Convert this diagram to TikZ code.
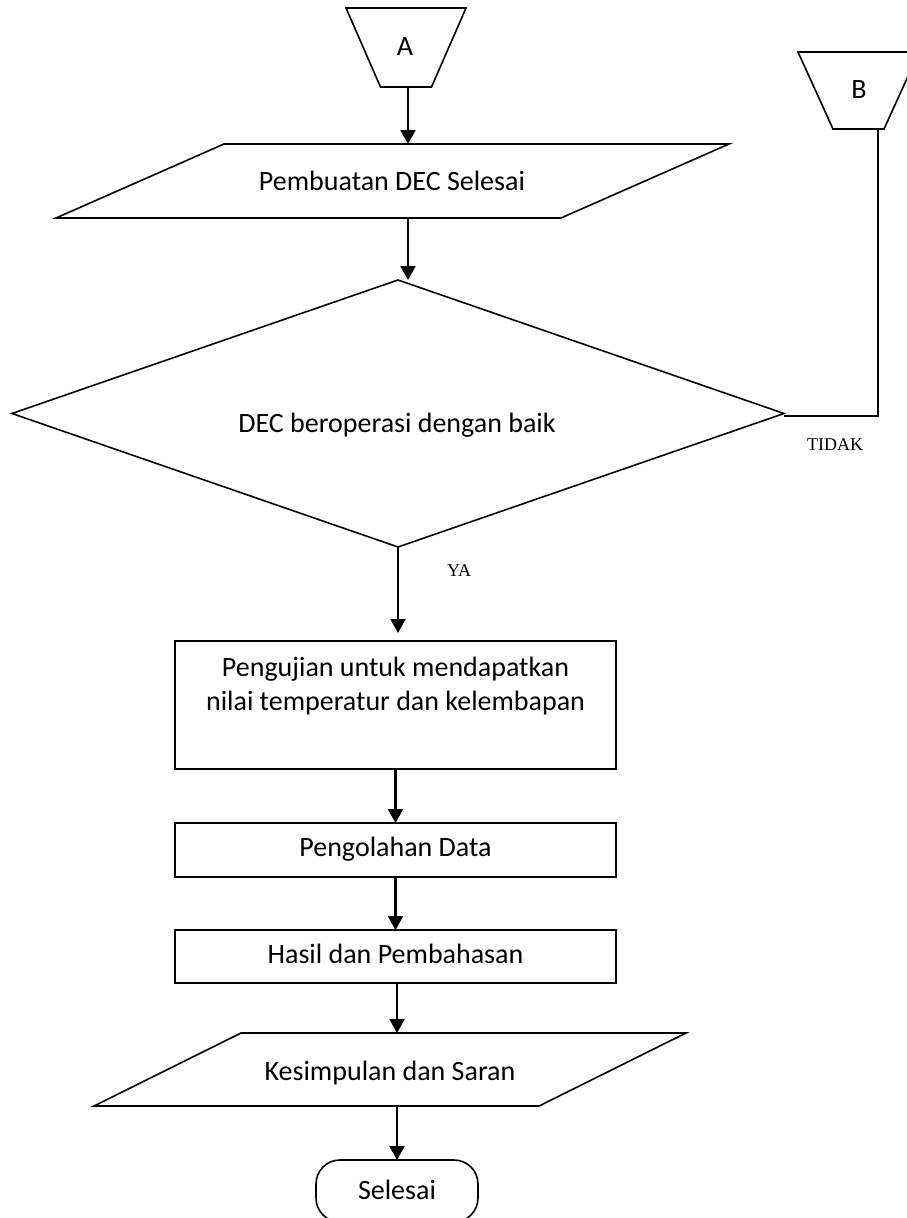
\documentclass[tikz,border=0pt]{standalone}
\usepackage{fontspec}
\setmainfont{Carlito}
\newfontfamily\timesfont{Liberation Serif}
\usetikzlibrary{arrows.meta,calc}
\begin{document}
\begin{tikzpicture}[x=1pt,y=-1pt,
 frame/.style={inner sep=0pt, outer sep=0pt},
 outline/.style={draw=black, line width=1.6pt, line join=miter},
 lbl/.style={inner sep=0pt, font=\fontsize{28}{34}\selectfont},
 lbls/.style={lbl, text height=19.3pt, text depth=5.6pt},
 yn/.style={inner sep=0pt, font=\timesfont\fontsize{18}{21}\selectfont},
 arr/.style={draw=black, line width=2.2pt, -{Triangle[width=15pt,length=14pt]}},
 conn/.style={draw=black, line width=2pt},
 procbox/.style={frame, outline, minimum width=441pt}
]
\useasboundingbox (0,0) rectangle (907,1218);
\clip (0,0) rectangle (907,1218);

% Off-page connector A
\node[frame, minimum width=120pt, minimum height=79pt] (a) at (406,47.5) {};
\draw[outline] (a.north west) -- (a.north east) -- ($(a.south east)+(-34.5,0)$) -- ($(a.south west)+(34.5,0)$) -- cycle;
\node[lbl] (atext) at (405,47) {A};

% Parallelogram 1
\node[frame, minimum width=505pt, minimum height=74pt] (p1) at (392.5,181) {};
\draw[outline] ($(p1.north west)+(84,0)$) -- ($(p1.north east)+(84,0)$) -- ($(p1.south east)+(-84,0)$) -- ($(p1.south west)+(-84,0)$) -- cycle;
\node[lbls] (p1text) at (392,184) {Pembuatan DEC Selesai};

% Decision
\node[frame, minimum width=772pt, minimum height=267pt] (d) at (398,413.5) {};
\draw[outline] (d.north) -- (d.east) -- (d.south) -- (d.west) -- cycle;
\node[lbls] (dtext) at (397,426) {DEC beroperasi dengan baik};

% Off-page connector B
\node[frame, minimum width=121pt, minimum height=77pt] (b) at (858.5,90.5) {};
\draw[outline] (b.north west) -- (b.north east) -- ($(b.south east)+(-35,0)$) -- ($(b.south west)+(35,0)$) -- cycle;
\node[lbl] (btext) at (859,90) {B};
\coordinate (bx) at ($(b.south)+(19.5,0)$);
\draw[conn] ($(d.east)+(0,2.5)$) -- ($(d.east -| bx)+(0,2.5)$) -- (bx);
\node[yn] (tidak) at (835,445) {TIDAK};

% Process boxes
\node[procbox, minimum height=128pt] (r1) at (395.5,705) {};
\node[lbl, align=center] (r1text) at (395.5,686) {Pengujian untuk mendapatkan\\nilai temperatur dan kelembapan};
\node[procbox, lbls, minimum height=54pt] (r2) at (395.5,850) {Pengolahan Data};
\node[procbox, lbls, minimum height=53pt] (r3) at (395.5,956.5) {Hasil dan Pembahasan};

% Parallelogram 2
\node[frame, minimum width=445pt, minimum height=73pt] (k) at (390,1069.5) {};
\draw[outline] ($(k.north west)+(73.5,0)$) -- ($(k.north east)+(73.5,0)$) -- ($(k.south east)+(-73.5,0)$) -- ($(k.south west)+(-73.5,0)$) -- cycle;
\node[lbls] (ktext) at (390,1074) {Kesimpulan dan Saran};

% Terminator
\node[frame, outline, rounded corners=24pt, minimum width=162pt, minimum height=62pt] (sel) at (397,1191) {};
\node[lbls] (seltext) at (397,1193) {Selesai};

% Arrows
\coordinate (ax) at (408,0);
\draw[arr] (a.south -| ax) -- (p1.north -| ax);
\draw[arr] (p1.south -| ax) -- (d.north -| ax);
\draw[arr, shorten >=8pt] (d.south) -- (d.south |- r1.north);
\node[yn] (ya) at (459,571) {YA};
\draw[arr] (r1.south) -- (r2.north);
\draw[arr] (r2.south) -- (r3.north);
\draw[arr] (r3.south -| sel) -- (k.north -| sel);
\draw[arr] (k.south -| sel) -- (sel.north);
\end{tikzpicture}
\end{document}
